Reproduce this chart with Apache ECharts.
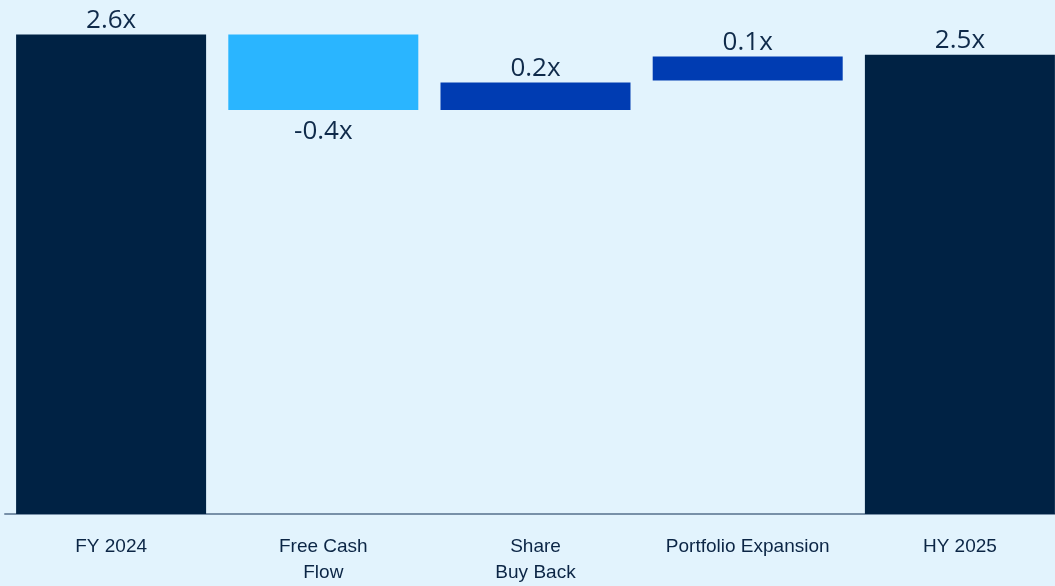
<!DOCTYPE html>
<html>
<head>
<meta charset="utf-8">
<script src="https://cdn.jsdelivr.net/npm/echarts@6/dist/echarts.min.js"></script>
<style>
html,body{margin:0;padding:0;background:#E2F3FD;overflow:hidden;}
#c{width:1066px;height:586px;}
</style>
</head>
<body>
<div id="c"></div>
<script>
const categories = ['FY 2024', 'Free Cash\nFlow', 'Share\nBuy Back', 'Portfolio Expansion', 'HY 2025'];
const barStart = [0, 2.60, 2.19, 2.35, 0];
const barEnd = [2.60, 2.19, 2.34, 2.48, 2.49];
const valueLabels = ['2.6x', '-0.4x', '0.2x', '0.1x', '2.5x'];
const barColors = ['#002244', '#2AB5FF', '#003CB2', '#003CB2', '#002244'];

const baseData = barStart.map((s, i) => Math.min(s, barEnd[i]));
const visData = barStart.map((s, i) => ({
  value: Math.abs(barEnd[i] - s),
  itemStyle: { color: barColors[i] },
  label: {
    show: true,
    position: barEnd[i] < s ? 'bottom' : 'top',
    distance: barEnd[i] < s ? 9 : 1,
    formatter: valueLabels[i]
  }
}));

const chart = echarts.init(document.getElementById('c'));
chart.setOption({
  backgroundColor: '#E2F3FD',
  animation: false,
  grid: { left: 5, right: 0, top: 16, height: 502, containLabel: false },
  xAxis: {
    type: 'category',
    data: categories,
    axisLine: { show: true, lineStyle: { color: '#7890A8', width: 2 } },
    axisTick: { show: false },
    axisLabel: {
      color: '#0B2545',
      fontSize: 19,
      fontFamily: 'Liberation Sans, sans-serif',
      lineHeight: 26,
      margin: 20,
      interval: 0
    }
  },
  yAxis: {
    type: 'value',
    min: 0,
    max: 2.7,
    show: false,
    splitLine: { show: false }
  },
  series: [
    {
      type: 'bar',
      stack: 'w',
      data: baseData,
      barWidth: 190,
      itemStyle: { color: 'transparent' },
      silent: true
    },
    {
      type: 'bar',
      stack: 'w',
      data: visData,
      barWidth: 190,
      label: {
        color: '#0F2A4A',
        fontSize: 26,
        fontFamily: 'Open Sans, Noto Sans, sans-serif'
      }
    }
  ]
});
</script>
</body>
</html>
